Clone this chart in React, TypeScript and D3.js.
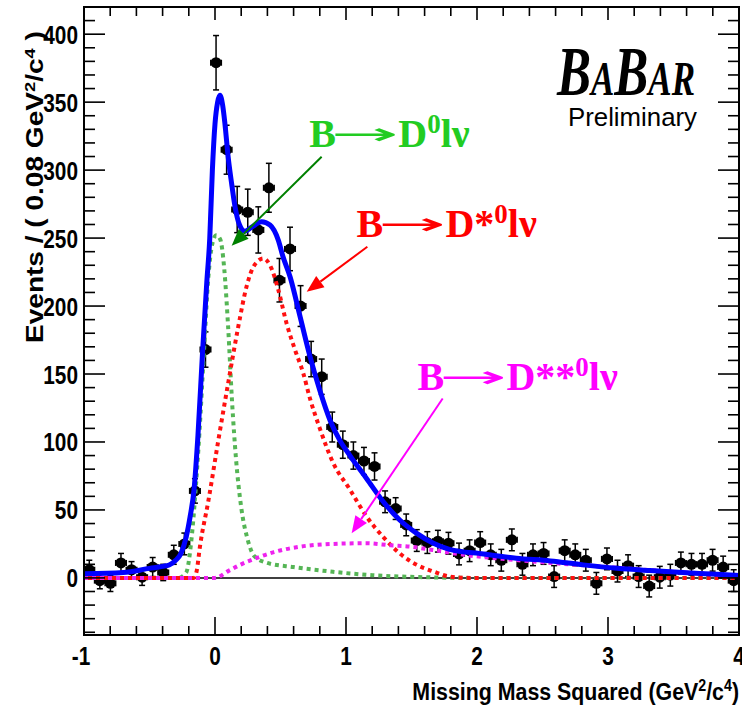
import React from "react";
import * as d3 from "d3";

// ---- data ----
const xDomain = [-1, 4];
const yDomain = [-42, 420];
const nBins = 62;
const counts = [6, -2, -4, 11, 6, 0.5, 8, 4, 17, 25, 64, 168, 379, 315, 271, 269, 256, 287, 219, 242, 200, 161, 148, 111, 98, 90, 86, 82, 56, 51, 39, 27.5, 26, 27, 25.5, 17.6, 20, 26, 17, 13, 28, 10, 17, 18, 1, 20, 17, 13, -4, 14, 5, 9, 1, -6, 0.5, 2, 11, 10, 10, 13, 8, -2];
const errors = [7, 6, 6, 7, 6, 6, 7, 6, 7, 8, 9, 13, 20, 18, 17, 17, 17, 18, 16, 16, 15, 13, 13, 11, 10, 10, 10, 10, 8, 8, 8, 8, 8, 8, 8, 8, 8, 8, 8, 8, 8, 8, 8, 8, 8, 8, 8, 8, 8, 8, 8, 8, 8, 8, 8, 8, 8, 8, 8, 8, 8, 8];

const totalFit: [number, number][] = [[-1, 3], [-0.7, 4], [-0.5, 7], [-0.4, 8.5], [-0.35, 9.5], [-0.3, 13], [-0.26, 18], [-0.22, 30], [-0.19, 45], [-0.16, 65], [-0.13, 105], [-0.094, 168], [-0.063, 217], [-0.04, 250], [-0.02, 300], [0, 334], [0.02, 350], [0.038, 355], [0.058, 348], [0.076, 334], [0.1, 310], [0.127, 290], [0.153, 273], [0.186, 260], [0.229, 255], [0.28, 258], [0.356, 262], [0.42, 259.6], [0.483, 248.5], [0.52, 236], [0.573, 221.5], [0.65, 192], [0.725, 163], [0.8, 138], [0.878, 116], [0.954, 101], [1.03, 90], [1.158, 73], [1.285, 56], [1.41, 42.6], [1.54, 32.8], [1.667, 25.5], [1.79, 21], [2.05, 17.6], [2.3, 14.5], [2.56, 12.5], [2.81, 9.6], [3.07, 7.1], [3.32, 5.4], [3.57, 3.9], [3.83, 2.7], [4, 1.7]];
const d0Fit: [number, number][] = [[-1, 0], [-0.28, 0], [-0.22, 4], [-0.18, 28], [-0.15, 62], [-0.12, 105], [-0.085, 165], [-0.05, 222], [-0.02, 246], [0.01, 252], [0.04, 249], [0.07, 228], [0.1, 185], [0.13, 130], [0.16, 88], [0.2, 52], [0.25, 28], [0.3, 16], [0.4, 11], [0.6, 8], [0.9, 4.5], [1.2, 2], [1.6, 0.5], [2, 0], [4, 0]];
const dStarFit: [number, number][] = [[-1, 0], [-0.16, 0], [-0.14, 5], [-0.115, 23], [-0.05, 57], [0.025, 101], [0.1, 143], [0.178, 185], [0.24, 214], [0.3, 230], [0.37, 235], [0.42, 230], [0.483, 212], [0.547, 187], [0.61, 168], [0.674, 150.5], [0.725, 132], [0.8, 110], [0.9, 85], [1.03, 65], [1.158, 45], [1.285, 30], [1.41, 18], [1.54, 9.6], [1.667, 4.7], [1.79, 1], [1.95, 0], [4, 0]];
const dStarStarFit: [number, number][] = [[-1, 0], [0, 0], [0.1, 5], [0.2, 10], [0.3, 14], [0.45, 19], [0.65, 23], [0.9, 25], [1.16, 25.5], [1.34, 24], [1.49, 23], [1.66, 20.6], [1.9, 17], [2.2, 14], [2.5, 11.5], [3, 8], [3.5, 4.5], [4, 1.8]];

const xTicks = [-1, 0, 1, 2, 3, 4];
const yTicks = [0, 50, 100, 150, 200, 250, 300, 350, 400];

// annotation anchors in data coordinates
const arrows = [
  { from: [0.814, 309.8], to: [0.127, 244.3], color: "#008000" },
  { from: [1.163, 243.6], to: [0.70, 210.5], color: "#ff0000" },
  { from: [1.738, 132], to: [1.043, 32.9], color: "#ff00ff" },
];
const labels = [
  { at: [0.72, 317], stars: "", color: "#22cc22" },
  { at: [1.08, 250.5], stars: "*", color: "#ff0000" },
  { at: [1.545, 138], stars: "**", color: "#ff00ff" },
];

const W = 742, H = 707;
const L = 84, R = 739, T = 7, B = 635;

export default function App() {
  const x = d3.scaleLinear().domain(xDomain).range([L, R]);
  const y = d3.scaleLinear().domain(yDomain).range([B, T]);
  const bw = (xDomain[1] - xDomain[0]) / nBins;
  const pts = counts.map((c, i) => ({ cx: xDomain[0] + (i + 0.5) * bw, c, e: errors[i] }));

  const line = d3.line<[number, number]>().x(d => x(d[0])).y(d => y(d[1])).curve(d3.curveMonotoneX);

  const xMinor = d3.range(-1, 4.0001, 0.2);
  const yMinor = d3.range(-40, 420.001, 10);

  const sans = "'Liberation Sans', Arial, Helvetica, sans-serif";
  const serif = "'Liberation Serif', 'Times New Roman', serif";

  const arrowHead = (a: any) => {
    const x1 = x(a.from[0]), y1 = y(a.from[1]), x2 = x(a.to[0]), y2 = y(a.to[1]);
    const ang = Math.atan2(y2 - y1, x2 - x1);
    const len = 17, wd = 7;
    const bx = x2 - len * Math.cos(ang), by = y2 - len * Math.sin(ang);
    const px = -Math.sin(ang) * wd, py = Math.cos(ang) * wd;
    return { x1, y1, bx, by, pts: `${x2},${y2} ${bx + px},${by + py} ${bx - px},${by - py}` };
  };

  return (
    <svg width={W} height={H} style={{ position: "absolute", left: 0, top: 0, background: "#fff" }}>
      <rect x={0} y={0} width={W} height={H} fill="#fff" />
      {/* zero line */}
      <line x1={L} x2={R} y1={y(0)} y2={y(0)} stroke="#000" strokeWidth={1.5} />

      {/* data points */}
      <g>
        {pts.map((p, i) => {
          const px = x(p.cx), py = y(p.c);
          const yt = y(p.c + p.e), yb = y(p.c - p.e);
          const xl = x(p.cx - bw / 2), xr = x(p.cx + bw / 2);
          return (
            <g key={i} stroke="#000" strokeWidth={1.5}>
              <line x1={px} x2={px} y1={yt} y2={yb} />
              <line x1={px - 3} x2={px + 3} y1={yt} y2={yt} />
              <line x1={px - 3} x2={px + 3} y1={yb} y2={yb} />
              <line x1={xl} x2={xr} y1={py} y2={py} />
              <line x1={xl} x2={xl} y1={py - 3} y2={py + 3} />
              <line x1={xr} x2={xr} y1={py - 3} y2={py + 3} />
              <circle cx={px} cy={py} r={5.5} fill="#000" stroke="none" />
            </g>
          );
        })}
      </g>

      {/* fit curves */}
      <path d={line(d0Fit) || ""} fill="none" stroke="#55b555" strokeWidth={4} strokeDasharray="4,4" />
      <path d={line(dStarFit) || ""} fill="none" stroke="#ff1010" strokeWidth={4} strokeDasharray="4,4" strokeDashoffset={4} />
      <path d={line(dStarStarFit) || ""} fill="none" stroke="#ee22ee" strokeWidth={4} strokeDasharray="4,4" />
      <path d={line(totalFit) || ""} fill="none" stroke="#0000ff" strokeWidth={5} />

      {/* frame */}
      <rect x={L} y={T} width={R - L} height={B - T} fill="none" stroke="#000" strokeWidth={2} />

      {/* x ticks */}
      {xMinor.map((v, i) => {
        const major = Math.abs(v - Math.round(v)) < 1e-6;
        const px = x(v);
        const lb = major ? 18 : 9;
        const lt = major ? 13 : 9;
        return (
          <g key={"xt" + i} stroke="#000" strokeWidth={1.6}>
            <line x1={px} x2={px} y1={B} y2={B - lb} />
            <line x1={px} x2={px} y1={T} y2={T + lt} />
          </g>
        );
      })}
      {/* y ticks */}
      {yMinor.map((v, i) => {
        const major = Math.abs(v / 50 - Math.round(v / 50)) < 1e-6;
        const py = y(v);
        const l = major ? 21 : 11;
        return (
          <g key={"yt" + i} stroke="#000" strokeWidth={1.6}>
            <line x1={L} x2={L + l} y1={py} y2={py} />
            <line x1={R} x2={R - l} y1={py} y2={py} />
          </g>
        );
      })}

      {/* tick labels */}
      <g fontFamily={sans} fontWeight="bold" fontSize={26} fill="#000">
        {xTicks.map(v => (
          <text key={"xl" + v} transform={`translate(${x(v) - (v < 0 ? 3 : 0)},665) scale(0.8,1)`} textAnchor="middle">{v}</text>
        ))}
        {yTicks.map(v => (
          <text key={"yl" + v} transform={`translate(78,${y(v) + 9.5}) scale(0.8,1)`} textAnchor="end">{v}</text>
        ))}
      </g>

      {/* axis titles */}
      <text transform="translate(739,700) scale(0.89,1)" textAnchor="end" fontFamily={sans} fontWeight="bold" fontSize={24} fill="#000">
        Missing Mass Squared (GeV<tspan dy={-9} fontSize={16}>2</tspan><tspan dy={9}>/c</tspan><tspan dy={-9} fontSize={16}>4</tspan><tspan dy={9}>)</tspan>
      </text>
      <text transform="translate(43,343) rotate(-90) scale(1.22,1)" textAnchor="start" fontFamily={sans} fontWeight="bold" fontSize={23} fill="#000">
        Events / ( 0.08 GeV<tspan dy={-8} fontSize={15}>2</tspan><tspan dy={8}>/c</tspan><tspan dy={-8} fontSize={15}>4</tspan><tspan dy={8}> )</tspan>
      </text>

      {/* annotations */}
      {arrows.map((a, i) => {
        const h = arrowHead(a);
        return (
          <g key={"ar" + i}>
            <line x1={h.x1} y1={h.y1} x2={h.bx} y2={h.by} stroke={a.color} strokeWidth={2} />
            <polygon points={h.pts} fill={a.color} />
          </g>
        );
      })}
      {labels.map((lb, i) => (
        <g key={"lb" + i} transform={`translate(${x(lb.at[0])},${y(lb.at[1])})`} fill={lb.color}>
          <text x={0} y={0} fontFamily={serif} fontWeight="bold" fontSize={40}>B</text>
          <text transform="translate(21,-3) scale(2.7,1)" fontFamily="'DejaVu Sans', sans-serif" fontSize={30}>→</text>
          <text x={89} y={0} fontFamily={serif} fontWeight="bold" fontSize={40}>
            D{lb.stars}<tspan dy={-14} fontSize={27}>0</tspan><tspan dy={14}>lν</tspan>
          </text>
        </g>
      ))}

      {/* BaBar logo */}
      <text x={557} y={95} fontFamily={serif} fontStyle="italic" fontWeight="bold" fill="#000" textLength={138} lengthAdjust="spacingAndGlyphs">
        <tspan fontSize={70}>B</tspan><tspan fontSize={48}>A</tspan><tspan fontSize={70}>B</tspan><tspan fontSize={48}>AR</tspan>
      </text>
      <text x={568} y={126} fontFamily={sans} fontSize={26} fill="#000" textLength={129} lengthAdjust="spacingAndGlyphs">Preliminary</text>
    </svg>
  );
}
